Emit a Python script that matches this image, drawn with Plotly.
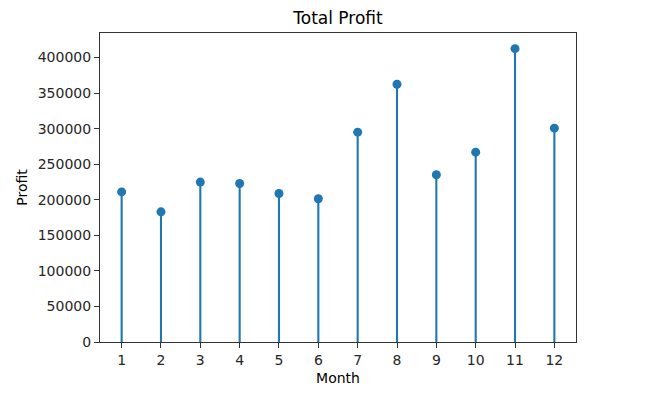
import plotly.graph_objects as go

months = [1, 2, 3, 4, 5, 6, 7, 8, 9, 10, 11, 12]
profit = [211000, 183000, 224800, 222900, 208800, 201400, 295000, 362400, 235100, 266900, 412400, 300600]
y_ticks = [0, 50000, 100000, 150000, 200000, 250000, 300000, 350000, 400000]

C0 = "#1f77b4"
FONT = "DejaVu Sans"

# stem segments built from the data arrays
stem_x, stem_y = [], []
for m, p in zip(months, profit):
    stem_x += [m, m, None]
    stem_y += [0, p, None]

fig = go.Figure()
fig.add_trace(go.Scatter(x=stem_x, y=stem_y, mode="lines",
                         line=dict(color=C0, width=2.1), hoverinfo="skip",
                         showlegend=False))
fig.add_trace(go.Scatter(x=months, y=profit, mode="markers",
                         marker=dict(color=C0, size=9, line=dict(width=0)),
                         showlegend=False))

fig.update_layout(
    width=660, height=405,
    margin=dict(l=92, r=92, t=25, b=71),
    paper_bgcolor="white", plot_bgcolor="white",
    font=dict(family=FONT, size=14, color="#262626"),
    title=dict(text="Total Profit", x=0.5, xanchor="center",
               y=1 - 10 / 405, yanchor="middle", yref="container", xref="container",
               automargin=False,
               font=dict(family=FONT, size=17, color="#000")),
)
fig.update_xaxes(
    range=[0.45, 12.55], tickvals=months, ticktext=[str(m) for m in months],
    showgrid=False, zeroline=False, automargin=False,
    showline=True, mirror=True, linecolor="#333", linewidth=1.1,
    ticks="outside", ticklen=5, tickcolor="#333", tickwidth=1.1,
    title=dict(text="Month", standoff=6, font=dict(family=FONT, size=14, color="#000")),
)
fig.update_yaxes(
    range=[0, 434400], tickvals=y_ticks, ticktext=[str(v) for v in y_ticks],
    showgrid=False, zeroline=False, automargin=False,
    showline=True, mirror=True, linecolor="#333", linewidth=1.1,
    ticks="outside", ticklen=5, tickcolor="#333", tickwidth=1.1,
    title=dict(text="Profit", standoff=6, font=dict(family=FONT, size=14, color="#000")),
)

fig.write_html("out.html")
